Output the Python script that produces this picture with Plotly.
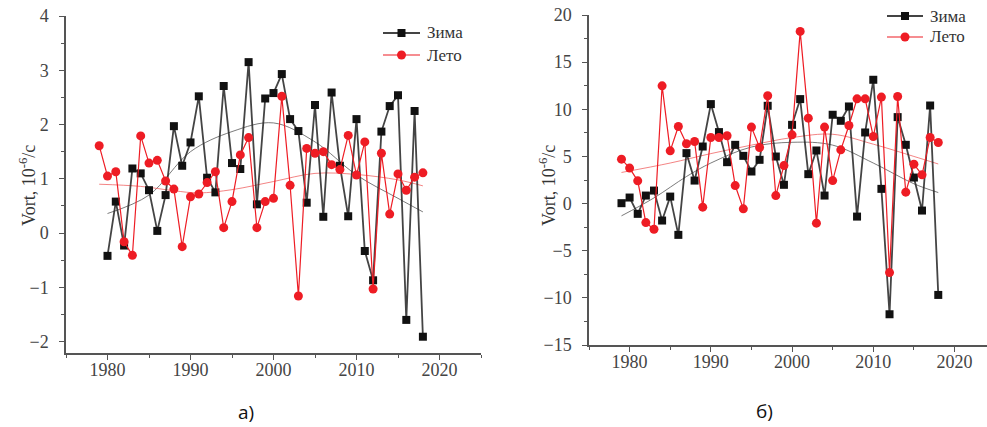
import plotly.graph_objects as go

# ---------------- data ----------------
years_a_winter = list(range(1980, 2019))
winter_a = [-0.42, 0.58, -0.23, 1.19, 1.10, 0.79, 0.04, 0.70, 1.97, 1.24,
            1.67, 2.52, 1.02, 0.75, 2.71, 1.29, 1.18, 3.15, 0.53, 2.48,
            2.58, 2.93, 2.10, 1.88, 0.56, 2.36, 0.30, 2.59, 1.24, 0.31,
            2.10, -0.33, -0.87, 1.87, 2.34, 2.54, -1.60, 2.25, -1.91]
years_a_summer = list(range(1979, 2019))
summer_a = [1.61, 1.05, 1.13, -0.16, -0.41, 1.79, 1.29, 1.34, 0.96, 0.81,
            -0.25, 0.67, 0.72, 0.93, 1.13, 0.10, 0.58, 1.44, 1.76, 0.10,
            0.58, 0.64, 2.52, 0.88, -1.16, 1.56, 1.47, 1.50, 1.26, 1.17,
            1.80, 1.07, 1.68, -1.03, 1.47, 0.35, 1.09, 0.79, 1.03, 1.11]

years_b = list(range(1979, 2019))
winter_b = [0.04, 0.64, -1.09, 0.85, 1.38, -1.80, 0.74, -3.32, 5.35, 2.44,
            6.05, 10.55, 7.58, 4.39, 6.23, 5.06, 3.40, 4.64, 10.37, 4.99,
            1.99, 8.35, 11.08, 3.12, 5.63, 0.85, 9.42, 8.78, 10.30, -1.38,
            7.54, 13.13, 1.56, -11.74, 9.17, 6.23, 2.76, -0.74, 10.40, -9.69]
summer_b = [4.71, 3.76, 2.41, -2.02, -2.72, 12.49, 5.59, 8.17, 6.34, 6.58,
            -0.38, 7.01, 7.01, 7.19, 1.91, -0.56, 8.11, 5.95, 11.43, 0.85,
            4.03, 7.29, 18.26, 9.06, -2.08, 8.11, 2.44, 5.70, 8.28, 11.11,
            11.11, 7.11, 11.29, -7.32, 11.36, 1.21, 4.18, 3.05, 7.01, 6.48]

# smooth trend curves
trend_years_a_winter = [1980, 1985, 1990, 1995, 2000, 2005, 2010, 2015, 2018]
trend_a_winter = [0.36, 0.70, 1.50, 1.87, 2.03, 1.68, 1.07, 0.64, 0.39]
trend_years_a_summer = [1979, 1984, 1988, 1991, 1995, 2000, 2005, 2010, 2015, 2018]
trend_a_summer = [0.90, 0.86, 0.78, 0.74, 0.80, 0.95, 1.10, 1.08, 0.98, 0.87]
trend_years_b_winter = [1979, 1983, 1987, 1990, 1995, 2000, 2005, 2010, 2015, 2018]
trend_b_winter = [-1.3, 0.6, 2.87, 4.3, 6.0, 6.5, 6.2, 4.3, 2.1, 1.17]
trend_years_b_summer = [1979, 1985, 1990, 1995, 2000, 2005, 2010, 2015, 2018]
trend_b_summer = [3.3, 4.3, 5.3, 6.2, 7.0, 7.35, 6.3, 5.0, 4.2]

x_ticks = [1980, 1990, 2000, 2010, 2020]
y_ticks_a = [-2, -1, 0, 1, 2, 3, 4]
y_ticks_b = [-15, -10, -5, 0, 5, 10, 15, 20]
names = ["Зима", "Лето"]
panel_labels = ["а)", "б)"]

W, H = 987, 427
BLACK_LINE = "rgba(35,35,35,0.85)"
BLACK_MK = "#111111"
RED = "#ee1c24"
SERIF = "Liberation Serif"
AX = "#555555"

fig = go.Figure()


def trend_trace(xs, ys, color, xa, ya):
    return go.Scatter(x=xs, y=ys, mode="lines", line=dict(color=color, width=1, shape="spline",
                                                          smoothing=1.0),
                      showlegend=False, hoverinfo="skip", xaxis=xa, yaxis=ya)


fig.add_trace(trend_trace(trend_years_a_winter, trend_a_winter, "rgba(90,90,90,0.8)", "x", "y"))
fig.add_trace(trend_trace(trend_years_a_summer, trend_a_summer, "rgba(238,80,80,0.7)", "x", "y"))
fig.add_trace(trend_trace(trend_years_b_winter, trend_b_winter, "rgba(90,90,90,0.8)", "x2", "y2"))
fig.add_trace(trend_trace(trend_years_b_summer, trend_b_summer, "rgba(238,80,80,0.7)", "x2", "y2"))


def series(xs, ys, name, kind, xa, ya):
    if kind == "w":
        line = dict(color=BLACK_LINE, width=1.8)
        marker = dict(symbol="square", size=8, color=BLACK_MK)
    else:
        line = dict(color=RED, width=1.2)
        marker = dict(symbol="circle", size=9, color=RED)
    return go.Scatter(x=xs, y=ys, mode="lines+markers", name=name, line=line, marker=marker,
                      xaxis=xa, yaxis=ya, showlegend=False)


fig.add_trace(series(years_a_winter, winter_a, names[0], "w", "x", "y"))
fig.add_trace(series(years_a_summer, summer_a, names[1], "s", "x", "y"))
fig.add_trace(series(years_b, winter_b, names[0], "w", "x2", "y2"))
fig.add_trace(series(years_b, summer_b, names[1], "s", "x2", "y2"))


def axis(**kw):
    d = dict(showgrid=False, zeroline=False, showline=True, linecolor=AX, automargin=False,
             linewidth=1.5, ticks="outside", ticklen=5, tickwidth=1.2, tickcolor=AX,
             tickfont=dict(family=SERIF, size=18, color="#444444"))
    d.update(kw)
    return d


def px(p):
    return p / W


def py(p):
    return 1 - p / H


def minor(dt, t0):
    return dict(ticks="outside", ticklen=3, tickwidth=1, tickcolor=AX, dtick=dt, tick0=t0)


fig.update_layout(
    width=W, height=H, margin=dict(l=0, r=0, t=0, b=0, autoexpand=False),
    paper_bgcolor="white", plot_bgcolor="white",
    font=dict(family=SERIF),
    showlegend=False,
    xaxis=axis(domain=[px(66), px(481)], range=[1975, 2025], tickvals=x_ticks, anchor="y",
               minor=minor(5, 1975), ticklabelstandoff=-5),
    yaxis=axis(domain=[py(353), py(16)], range=[-2.21, 4], tickvals=y_ticks_a, anchor="x",
               minor=minor(0.5, 0), ticklabelstandoff=7),
    xaxis2=axis(domain=[px(589), 1.0], range=[1975, 2024], tickvals=x_ticks, anchor="y2",
                minor=minor(5, 1975), ticklabelstandoff=-5),
    yaxis2=axis(domain=[py(345), py(15)], range=[-15, 20], tickvals=y_ticks_b, anchor="x2",
                minor=minor(2.5, 0), ticklabelstandoff=7),
)


# ---- legends drawn as paper-anchored shapes + text (pixel layout) ----
def legend_block(x0, x1, y_first, y_second):
    xm = (x0 + x1) / 2
    fig.add_shape(type="line", xref="paper", yref="paper", x0=px(x0), x1=px(x1),
                  y0=py(y_first), y1=py(y_first), line=dict(color=BLACK_LINE, width=1.8))
    fig.add_shape(type="rect", xref="paper", yref="paper", x0=px(xm - 4), x1=px(xm + 4),
                  y0=py(y_first + 4), y1=py(y_first - 4), line=dict(width=0), fillcolor=BLACK_MK)
    fig.add_annotation(x=px(x1 + 5), y=py(y_first), xref="paper", yref="paper", text=names[0],
                       xanchor="left", yanchor="middle", showarrow=False,
                       font=dict(family=SERIF, size=17, color="#333333"))
    fig.add_shape(type="line", xref="paper", yref="paper", x0=px(x0), x1=px(x1),
                  y0=py(y_second), y1=py(y_second), line=dict(color=RED, width=1.2))
    fig.add_shape(type="circle", xref="paper", yref="paper", x0=px(xm - 4.5), x1=px(xm + 4.5),
                  y0=py(y_second + 4.5), y1=py(y_second - 4.5), line=dict(width=0), fillcolor=RED)
    fig.add_annotation(x=px(x1 + 5), y=py(y_second), xref="paper", yref="paper", text=names[1],
                       xanchor="left", yanchor="middle", showarrow=False,
                       font=dict(family=SERIF, size=17, color="#333333"))


legend_block(383, 420, 33, 55)
legend_block(887, 923, 16, 37)

ytitle = "Vort, 10<sup>-6</sup>/c"
for xp in (27, 547):
    fig.add_annotation(x=px(xp), y=py(186), xref="paper", yref="paper", text=ytitle, textangle=-90,
                       xanchor="center", yanchor="middle",
                       showarrow=False, font=dict(family=SERIF, size=18, color="#333333"))
fig.add_annotation(x=px(246), y=py(412), xref="paper", yref="paper", text=panel_labels[0],
                   xanchor="center", yanchor="middle",
                   showarrow=False, font=dict(family="Open Sans, sans-serif", size=19, color="#111111"))
fig.add_annotation(x=px(764), y=py(411), xref="paper", yref="paper", text=panel_labels[1],
                   xanchor="center", yanchor="middle",
                   showarrow=False, font=dict(family="Open Sans, sans-serif", size=19, color="#111111"))

fig.write_html(
    "out.html",
    config={"displayModeBar": False},
    post_script="document.body.style.margin='0';document.body.style.padding='0';"
                "document.body.style.overflow='hidden';",
)
